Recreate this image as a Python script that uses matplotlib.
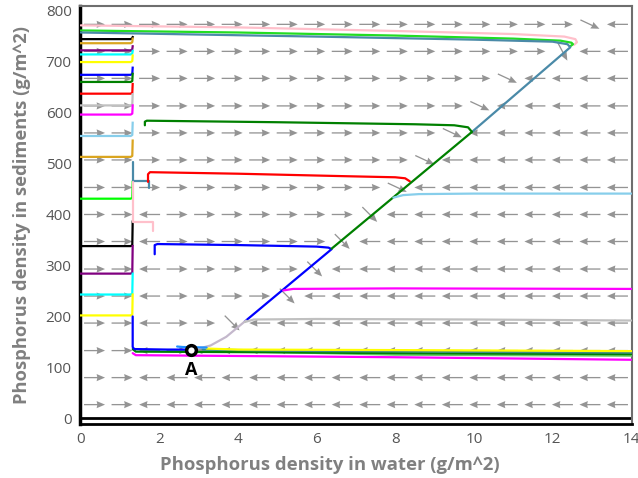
import matplotlib
matplotlib.use('Agg')
import matplotlib.pyplot as plt
import numpy as np

# ---- arrow field ----
arrow_x = [0.35, 1.05, 1.75, 2.45, 3.15, 3.85, 4.55, 5.25, 5.95, 6.65,
           7.35, 8.05, 8.75, 9.45, 10.15, 10.85, 11.55, 12.25, 12.95, 13.65]
arrow_y = [27, 80, 133, 187, 240, 293, 347, 400, 453, 507, 560, 613, 667, 720, 773]
# R right, L left, d slight down-right, D down-right, S steep down-right
arrow_dir = [
    "RRLLLLLLLLLLLLLLLLLL",
    "RRLLLLLLLLLLLLLLLLLL",
    "RRLRLLLLLLLLLLLLLLLL",
    "RRLRRDLLLLLLLLLLLLLL",
    "RRLRRRRDLLLLLLLLLLLL",
    "RRLRRRRRDLLLLLLLLLLL",
    "RRLRRRRRRDLLLLLLLLLL",
    "RRLRRRRRRRDLLLLLLLLL",
    "RRRRRRRRRRRdLLLLLLLL",
    "RRRRRRRRRRRRdLLLLLLL",
    "RRRRRRRRRRRRRdLLLLLL",
    "RRRRRRRRRRRRRRdLLLLL",
    "RRRRRRRRRRRRRRRdLLLL",
    "RRRRRRRRRRRRRRRRRSLL",
    "RRRRRRRRRRRRRRRRRRdL",
]
dir_angle = {'R': 0, 'L': 180, 'd': -25, 'D': -45, 'S': -62}

# ---- left stack of trajectories (start at x=0, hook up at x~1.3) ----
stack_start = [744, 736, 722, 714, 699, 674, 660, 637, 614, 596, 554, 513, 431, 338, 284, 243, 202]
stack_top = [748, 745, 730, 721, 712, 688, 676, 656, 636, 614, 580, 545, 464, 386, 338, 284, 243]
stack_colors = ['black', 'goldenrod', 'purple', 'cyan', 'yellow', 'blue', 'green', 'red',
                'silver', 'magenta', 'skyblue', 'goldenrod', 'lime', 'black', 'purple',
                'cyan', 'yellow']
stack_x = [0, 1.27, 1.31, 1.32]

# ---- other trajectories ----
pink_top_x = [0, 4, 8, 11, 12.3, 12.58, 12.62, 12.55]
pink_top_y = [771, 767, 760, 754, 749, 744, 738, 733]
lime_top_x = [0, 4, 8, 11, 12.2, 12.48, 12.52, 12.45]
lime_top_y = [761, 757, 751, 745, 741, 737, 734, 730]
steel_top_x = [9.95, 12.45, 12.38, 12.0, 10, 6, 3, 0]
steel_top_y = [562, 728, 734, 739, 743, 749, 753, 757]

steel_hook_x = [1.32, 1.32, 1.73, 1.73]
steel_hook_y = [503, 466, 466, 452]
pink_hook_x = [1.32, 1.32, 1.84, 1.84]
pink_hook_y = [464, 386, 386, 368]

red_x = [1.71, 1.71, 1.76, 4, 6.8, 8.0, 8.25, 8.37]
red_y = [464, 479, 483, 480, 475, 473, 471, 465]
green_x = [1.63, 1.63, 1.68, 5, 8.5, 9.5, 9.85, 9.95, 6.38]
green_y = [575, 582, 584, 581, 577, 575, 571, 562, 333]
blue_x = [1.88, 1.88, 1.95, 4, 6.0, 6.3, 6.38, 4.17]
blue_y = [322, 340, 342, 340, 337, 335, 332, 190]

thistle_x = [4.2, 3.7, 3.3, 3.1, 2.9]
thistle_y = [192, 160, 143, 139, 137]
silver_x = [4.17, 4.4, 6, 10, 14]
silver_y = [189, 194, 195, 194, 192]
magenta_mid_x = [5.15, 5.4, 8, 14]
magenta_mid_y = [251, 254, 255, 254]
sky_right_x = [7.95, 8.2, 8.6, 10, 14]
sky_right_y = [433, 438, 440, 441, 441]

blue_low_x = [1.32, 1.32, 1.36, 2.2, 2.8]
blue_low_y = [200, 140, 136, 135, 135]
dodger_x = [2.45, 2.6, 3.2]
dodger_y = [141, 140, 139]
yellow_low_x = [3.2, 4, 8, 14]
yellow_low_y = [137, 135, 134, 132]
steel_low_x = [3.1, 6, 14]
steel_low_y = [135, 132, 129]
green_low_x = [1.32, 1.4, 4, 8, 14]
green_low_y = [136, 131, 130, 128, 126]
lgreen_low_x = [3.2, 8, 14]
lgreen_low_y = [133, 125, 123]
magenta_low_x = [1.32, 1.4, 3, 8, 14]
magenta_low_y = [128, 124, 123, 120, 115]

point_a = (2.8, 135)

fig = plt.figure(figsize=(6.38, 4.78), dpi=100)
ax = fig.add_axes([80/638, 54/478, 552/638, 418/478])

# arrows
X, Y, U, V = [], [], [], []
for yy, row in zip(arrow_y, arrow_dir):
    for xx, c in zip(arrow_x, row):
        a = np.deg2rad(dir_angle[c])
        X.append(xx); Y.append(yy)
        U.append(np.cos(a)); V.append(np.sin(a))
ax.quiver(X, Y, U, V, angles='uv', scale_units='dots', scale=1/21, units='dots',
          width=1.3, headwidth=5.5, headlength=6.5, headaxislength=6,
          pivot='middle', color='#949494', zorder=1)

lw = 1.6
for s, t, c in zip(stack_start, stack_top, stack_colors):
    ax.plot(stack_x, [s, s, s + 2, t], color=c, lw=lw, zorder=3)

lines = [
    (pink_top_x, pink_top_y, 'pink'),
    (lime_top_x, lime_top_y, '#22dd22'),
    (steel_top_x, steel_top_y, '#4a8aa8'),
    (steel_hook_x, steel_hook_y, '#4a8aa8'),
    (pink_hook_x, pink_hook_y, 'pink'),
    (red_x, red_y, 'red'),
    (blue_x, blue_y, 'blue'),
    (green_x, green_y, 'green'),
    (thistle_x, thistle_y, '#c4b8cc'),
    (silver_x, silver_y, 'silver'),
    (magenta_mid_x, magenta_mid_y, 'magenta'),
    (sky_right_x, sky_right_y, 'skyblue'),
    (magenta_low_x, magenta_low_y, 'magenta'),
    (lgreen_low_x, lgreen_low_y, '#66cc66'),
    (green_low_x, green_low_y, 'green'),
    (steel_low_x, steel_low_y, '#3a8a8a'),
    (yellow_low_x, yellow_low_y, 'yellow'),
    (blue_low_x, blue_low_y, 'blue'),
    (dodger_x, dodger_y, 'dodgerblue'),
]
for xs, ys, c in lines:
    ax.plot(xs, ys, color=c, lw=lw, zorder=3, solid_capstyle='round')

ax.plot(*point_a, 'o', ms=7, mfc='white', mec='black', mew=2.5, zorder=5)
ax.text(point_a[0], point_a[1] - 40, 'A', fontsize=13, fontweight='bold',
        ha='center', va='center', family='Open Sans')

ax.axhline(0, color='black', lw=2, zorder=2)

ax.set_xlim(-0.02, 14.02)
ax.set_ylim(-11, 809)
ax.set_xticks(range(0, 15, 2))
ax.set_yticks(range(0, 801, 100))
ax.tick_params(length=0, labelsize=11, labelcolor='#555555', pad=6)
for lab in ax.get_xticklabels() + ax.get_yticklabels():
    lab.set_family('Open Sans')

for side in ['top', 'right']:
    ax.spines[side].set_color('#6e6e6e')
    ax.spines[side].set_linewidth(1.5)
ax.spines['left'].set_color('black')
ax.spines['left'].set_linewidth(2.5)
ax.spines['bottom'].set_color('black')
ax.spines['bottom'].set_linewidth(2)

ax.set_xlabel('Phosphorus density in water (g/m^2)', fontsize=13.3, fontweight='bold',
              color='#808080', family='Open Sans')
ax.xaxis.set_label_coords(0.453, -0.076)
ax.set_ylabel('Phosphorus density in sediments (g/m^2)', fontsize=13.2, fontweight='bold',
              color='#808080', family='Open Sans')
ax.yaxis.set_label_coords(-0.088, 0.5)

fig.savefig('out.png', dpi=100)
